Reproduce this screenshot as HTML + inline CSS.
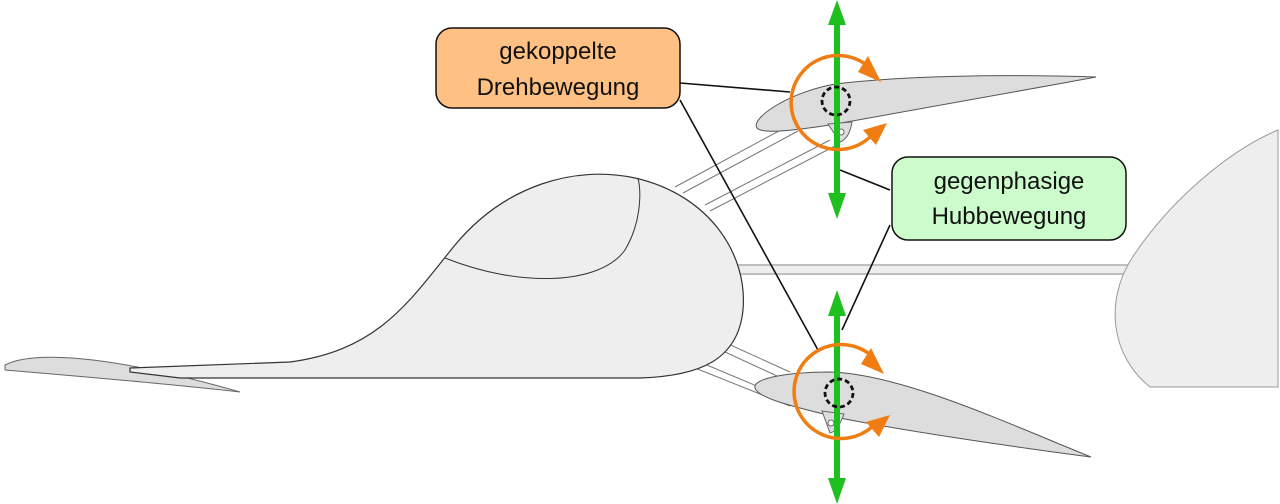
<!DOCTYPE html>
<html><head><meta charset="utf-8"><style>html,body{margin:0;padding:0;background:#fff}svg{display:block}</style></head><body>
<svg width="1280" height="504" viewBox="0 0 1280 504" xmlns="http://www.w3.org/2000/svg" font-family="Liberation Sans, sans-serif">
<!-- tail boom -->
<path d="M735,265 L1135,265 M735,274 L1135,274" stroke="#999" stroke-width="1.2" fill="none"/>
<rect x="735" y="266" width="400" height="7" fill="#eee"/>
<!-- vertical fin -->
<path d="M1278,130 C1230,150 1170,200 1132,258 C1105,300 1110,355 1150,387 L1278,387 Z" fill="#eee" stroke="#999" stroke-width="1"/>
<!-- struts upper -->
<path d="M675,187 L790,125 M683,193 L798,131 M705,205 L830,140 M710,211 L835,146" stroke="#777" stroke-width="1" fill="none"/>
<!-- struts lower -->
<path d="M715,338 L790,372 M710,345 L790,382 M695,360 L790,400 M690,366 L790,406" stroke="#777" stroke-width="1" fill="none"/>
<!-- stabilizer -->
<path d="M5,365 C30,352 100,352 240,392 C180,385 100,378 5,370 Z" fill="#ddd" stroke="#666" stroke-width="1"/>
<!-- fuselage -->
<path d="M130,368 L290,362 C380,350 410,300 455,245 C505,185 575,165 635,178 C710,195 748,255 743,310 C738,360 700,376 640,378 L180,378 L130,372 Z" fill="#eee" stroke="#333" stroke-width="1.2"/>
<path d="M445,258 C520,288 600,285 625,250 C640,225 642,195 638,178" fill="none" stroke="#333" stroke-width="1"/>
<!-- leaders -->
<g stroke="#111" stroke-width="1.6" fill="none">
<path d="M680,83 L790,92"/><path d="M680,100 L818,350"/>
<path d="M890,190 L840,170"/><path d="M890,225 L842,330"/>
</g>
<!-- upper wing -->
<path d="M757,128 C750,118 790,92 835,84 C900,76 1000,74 1096,77 C1000,95 900,112 830,125 C790,131 762,134 757,128 Z" fill="#ddd" stroke="#555" stroke-width="1"/>
<path d="M828,124 L852,122 C850,135 845,140 840,142 Z" fill="#ddd" stroke="#666" stroke-width="1"/>
<circle cx="841" cy="132" r="3" fill="#fff" stroke="#666"/>
<!-- lower wing -->
<path d="M755,388 C752,378 790,372 830,372 C900,374 1000,420 1091,457 C1000,445 900,430 840,418 C790,406 758,398 755,388 Z" fill="#ddd" stroke="#555" stroke-width="1"/>
<path d="M822,411 L844,414 C840,425 835,432 830,433 Z" fill="#ddd" stroke="#666" stroke-width="1"/>
<circle cx="831" cy="423" r="3" fill="#fff" stroke="#666"/>
<!-- green arrows -->
<g fill="#1fbf1f" stroke="none">
<rect x="834" y="20" width="6" height="180"/>
<path d="M837,0 L828,25 L846,25 Z"/><path d="M837,219 L828,193 L846,193 Z"/>
<rect x="834" y="310" width="6" height="175"/>
<path d="M837,290 L828,316 L846,316 Z"/><path d="M837,504 L828,478 L846,478 Z"/>
</g>
<!-- dashed circles -->
<circle cx="836" cy="101" r="14" fill="none" stroke="#111" stroke-width="2.8" stroke-dasharray="5,3"/>
<circle cx="839" cy="393" r="14" fill="none" stroke="#111" stroke-width="2.8" stroke-dasharray="5,3"/>
<!-- orange arrows -->
<g fill="none" stroke="#f07d12" stroke-width="3.5">
<path d="M870,68 A47,47 0 1 0 873,134" />
<path d="M873,357 A47,47 0 1 0 875,424" />
</g>
<g fill="#f07d12">
<path d="M881,82 L868,56 L858,72 Z"/>
<path d="M887,123 L863,130 L876,145 Z"/>
<path d="M884,374 L871,348 L861,364 Z"/>
<path d="M890,415 L866,422 L879,437 Z"/>
</g>
<!-- labels -->
<rect x="436" y="28" width="244" height="80" rx="16" fill="#ffc183" stroke="#111" stroke-width="1.5"/>
<text x="558" y="59" font-size="24" text-anchor="middle" fill="#111">gekoppelte</text>
<text x="558" y="95" font-size="24" text-anchor="middle" fill="#111">Drehbewegung</text>
<rect x="892" y="157" width="234" height="83" rx="16" fill="#ccfccc" stroke="#111" stroke-width="1.5"/>
<text x="1009" y="189" font-size="24" text-anchor="middle" fill="#111">gegenphasige</text>
<text x="1009" y="224" font-size="24" text-anchor="middle" fill="#111">Hubbewegung</text>
</svg>
</body></html>
